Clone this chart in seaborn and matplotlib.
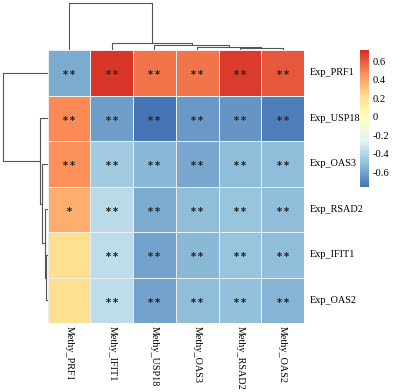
import numpy as np
import pandas as pd
import matplotlib
matplotlib.use("Agg")
import matplotlib.pyplot as plt
from matplotlib.colors import LinearSegmentedColormap
import seaborn as sns

# Data
row_names = ['Exp_PRF1', 'Exp_USP18', 'Exp_OAS3', 'Exp_RSAD2', 'Exp_IFIT1', 'Exp_OAS2']
col_names = ['Methy_PRF1', 'Methy_IFIT1', 'Methy_USP18', 'Methy_OAS3', 'Methy_RSAD2', 'Methy_OAS2']

corr_prf1 = [-0.58, 0.70, 0.53, 0.53, 0.69, 0.61]
corr_usp18 = [0.47, -0.62, -0.76, -0.64, -0.645, -0.725]
corr_oas3 = [0.46, -0.46, -0.535, -0.59, -0.51, -0.51]
corr_rsad2 = [0.37, -0.38, -0.575, -0.52, -0.48, -0.51]
corr_ifit1 = [0.23, -0.37, -0.60, -0.53, -0.49, -0.52]
corr_oas2 = [0.22, -0.37, -0.61, -0.51, -0.50, -0.55]

stars_prf1 = ['**', '**', '**', '**', '**', '**']
stars_usp18 = ['**', '**', '**', '**', '**', '**']
stars_oas3 = ['**', '**', '**', '**', '**', '**']
stars_rsad2 = ['*', '**', '**', '**', '**', '**']
stars_ifit1 = ['', '**', '**', '**', '**', '**']
stars_oas2 = ['', '**', '**', '**', '**', '**']

# dendrogram merges: (left node, right node, height); leaves are 0..5 in display order
row_merges = [(4, 5, 2.0), (3, 6, 3.0), (2, 7, 5.3), (1, 8, 8.0), (0, 9, 44.7)]
col_merges = [(4, 5, 2.3), (3, 6, 3.3), (2, 7, 4.7), (1, 8, 7.3), (0, 9, 46.7)]

cbar_ticks = [-0.6, -0.4, -0.2, 0, 0.2, 0.4, 0.6]
cbar_labels = ['-0.6', '-0.4', '-0.2', '0', '0.2', '0.4', '0.6']

df = pd.DataFrame([corr_prf1, corr_usp18, corr_oas3, corr_rsad2, corr_ifit1, corr_oas2],
                  index=row_names, columns=col_names)
stars = np.array([stars_prf1, stars_usp18, stars_oas3, stars_rsad2, stars_ifit1, stars_oas2])

# pheatmap-like palette
cmap = LinearSegmentedColormap.from_list(
    'rdylbu_r', ['#4575B4', '#91BFDB', '#E0F3F8', '#FFFFBF', '#FEE090', '#FC8D59', '#D73027'], N=100)

plt.rcParams['font.family'] = ['Liberation Serif', 'DejaVu Serif']

fig = plt.figure(figsize=(3.93, 3.92), dpi=100)
ax = fig.add_axes([0.1214, 0.176, 0.652, 0.6964])
cax = fig.add_axes([0.916, 0.523, 0.022, 0.349])

sns.heatmap(df, ax=ax, cmap=cmap, vmin=-0.76, vmax=0.72, cbar_ax=cax,
            annot=stars, fmt='', linewidths=0.6, linecolor='#eeeeee',
            annot_kws={'color': '#2a2a2a', 'fontsize': 6, 'family': 'DejaVu Sans',
                       'fontweight': 'bold'})
# use the centered asterisk operator so stars sit in the middle of cells
for t in ax.texts:
    t.set_text(t.get_text().replace('*', '\u2217'))

ax.yaxis.tick_right()
ax.set_yticklabels(row_names, rotation=0, fontsize=7.4, va='center')
ax.set_xticklabels(col_names, rotation=-90, fontsize=7.3, va='top', ha='center')
ax.tick_params(axis='y', length=0, pad=4)
ax.tick_params(axis='x', length=0, pad=2.5)
ax.set_xlabel('')
ax.set_ylabel('')

cax.set_yticks(cbar_ticks)
cax.set_yticklabels(cbar_labels, fontsize=7.6)
cax.tick_params(length=0, pad=3)
for s in cax.spines.values():
    s.set_visible(False)


def draw_dendro(dax, merges, n, orient):
    pos = {i: i + 0.5 for i in range(n)}
    hgt = {i: 0.0 for i in range(n)}
    for k, (a, b, h) in enumerate(merges):
        xs = [pos[a], pos[a], pos[b], pos[b]]
        ys = [hgt[a], h, h, hgt[b]]
        if orient == 'top':
            dax.plot(xs, ys, color='#555555', lw=0.8)
        else:
            dax.plot(ys, xs, color='#555555', lw=0.8)
        pos[n + k] = (pos[a] + pos[b]) / 2
        hgt[n + k] = h
    top = max(m[2] for m in merges)
    if orient == 'top':
        dax.set_xlim(0, n)
        dax.set_ylim(0, top * 1.07)
    else:
        dax.set_ylim(n, 0)
        dax.set_xlim(top * 1.075, 0)
    dax.axis('off')


cdax = fig.add_axes([0.1214, 0.8724, 0.652, 0.1276])
draw_dendro(cdax, col_merges, len(col_names), 'top')
rdax = fig.add_axes([0.0, 0.176, 0.1214, 0.6964])
draw_dendro(rdax, row_merges, len(row_names), 'left')

fig.savefig('out.png', dpi=100)
